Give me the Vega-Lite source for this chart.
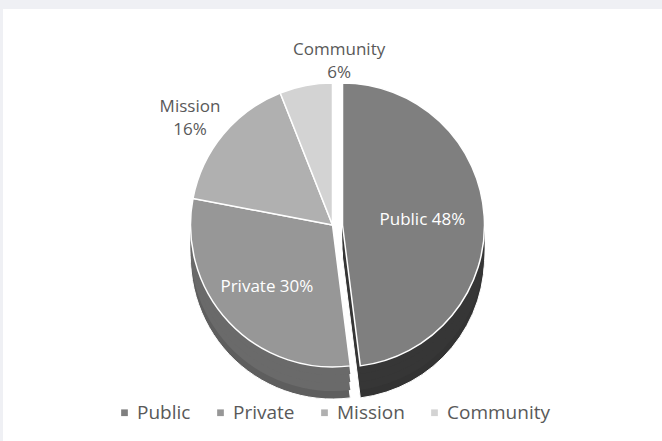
{
  "$schema": "https://vega.github.io/schema/vega-lite/v6.json",
  "width": 662,
  "height": 441,
  "autosize": {"type": "fit", "contains": "padding"},
  "padding": {"top": 9, "left": 3, "right": 0, "bottom": 0},
  "background": "#eff0f4",
  "view": {"fill": "white", "stroke": null},
  "config": {"view": {"fill": "white", "stroke": null}, "font": "Open Sans"},
  "data": {"values": [
    {"sector": "Public", "share": 48, "label": "Public 48%"},
    {"sector": "Private", "share": 30, "label": "Private 30%"},
    {"sector": "Mission", "share": 16, "label": "Mission\n16%"},
    {"sector": "Community", "share": 6, "label": "Community\n6%"}
  ]},
  "encoding": {
    "theta": {"field": "share", "type": "quantitative", "stack": true},
    "order": {"field": "share", "type": "quantitative", "sort": "descending"}
  },
  "layer": [
    {
      "mark": {"type": "arc", "radius": 142, "yOffset": 32, "xOffset": {"expr": "datum.sector === 'Public' ? 10 : 0"}, "stroke": "white", "strokeWidth": 1},
      "encoding": {"color": {"field": "sector", "type": "nominal", "legend": null,
        "scale": {"domain": ["Public", "Private", "Mission", "Community"], "range": ["#333333", "#5e5e5e", "#555555", "#8a8a8a"]}}}
    },
    {
      "mark": {"type": "arc", "radius": 142, "yOffset": 24, "xOffset": {"expr": "datum.sector === 'Public' ? 10 : 0"}},
      "encoding": {"color": {"field": "sector", "type": "nominal", "legend": null,
        "scale": {"domain": ["Public", "Private", "Mission", "Community"], "range": ["#363636", "#6a6a6a", "#555555", "#8a8a8a"]}}}
    },
    {
      "mark": {"type": "arc", "radius": 142, "yOffset": 16, "xOffset": {"expr": "datum.sector === 'Public' ? 10 : 0"}},
      "encoding": {"color": {"field": "sector", "type": "nominal", "legend": null,
        "scale": {"domain": ["Public", "Private", "Mission", "Community"], "range": ["#363636", "#6a6a6a", "#555555", "#8a8a8a"]}}}
    },
    {
      "mark": {"type": "arc", "radius": 142, "yOffset": 8, "xOffset": {"expr": "datum.sector === 'Public' ? 10 : 0"}},
      "encoding": {"color": {"field": "sector", "type": "nominal", "legend": null,
        "scale": {"domain": ["Public", "Private", "Mission", "Community"], "range": ["#363636", "#6a6a6a", "#555555", "#8a8a8a"]}}}
    },
    {
      "mark": {"type": "arc", "radius": 142, "xOffset": {"expr": "datum.sector === 'Public' ? 10 : 0"}, "stroke": "white", "strokeWidth": 1.5},
      "encoding": {"color": {"field": "sector", "type": "nominal",
        "scale": {"domain": ["Public", "Private", "Mission", "Community"], "range": ["#7f7f7f", "#979797", "#b0b0b0", "#d3d3d3"]},
        "legend": {"orient": "none", "legendX": 112, "legendY": 394, "direction": "horizontal", "title": null,
          "symbolType": "square", "symbolSize": 45, "symbolStrokeWidth": 0, "labelFontSize": 19, "labelColor": "#595959",
          "labelFont": "Open Sans", "labelOffset": 3, "columnPadding": 20, "symbolOffset": 0}}}
    },
    {
      "mark": {"type": "text", "fontSize": 17, "lineBreak": "\n", "lineHeight": 23, "align": "center", "baseline": "middle",
        "radius": {"expr": "datum.sector === 'Public' ? 80 : datum.sector === 'Private' ? 90 : datum.sector === 'Mission' ? 185 : 178"},
        "xOffset": {"expr": "datum.sector === 'Public' ? 10 : datum.sector === 'Community' ? 40 : 0"}},
      "encoding": {
        "text": {"field": "label", "type": "nominal"},
        "color": {"condition": {"test": "datum.sector === 'Public' || datum.sector === 'Private'", "value": "white"}, "value": "#595959"}
      }
    }
  ],
  "resolve": {"scale": {"color": "independent"}}
}
